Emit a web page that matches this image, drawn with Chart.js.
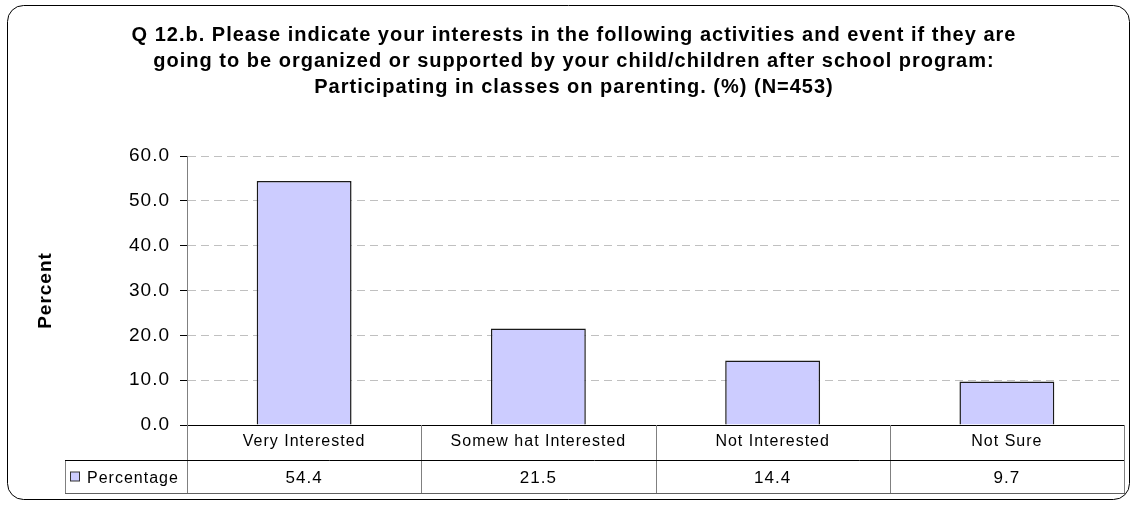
<!DOCTYPE html>
<html lang="en">
<head>
  <meta charset="UTF-8">
  <title>Q 12.b - Participating in classes on parenting</title>
  <script src="https://cdn.jsdelivr.net/npm/chart.js"></script>
  <style>
    html, body { margin: 0; padding: 0; background: #fff; }
    #wrap { width: 1133px; height: 508px; }
  </style>
</head>
<body>
  <div id="wrap">
    <canvas id="grafico" width="1133" height="508"></canvas>
  </div>

  <script>
    // Dados do gráfico
    const categorias = ["Very Interested", "Somew hat Interested", "Not Interested", "Not Sure"];
    const percentagens = [54.4, 21.5, 14.4, 9.7];
    const nomeSerie = "Percentage";
    const eixoY = { min: 0, max: 60, passo: 10 };
    const titulo = [
      "Q 12.b. Please indicate your interests in the following activities and event if they are",
      "going to be organized or supported by your child/children after school program:",
      "Participating in classes on parenting. (%) (N=453)"
    ];

    const FONTE = "'Liberation Sans', Arial, sans-serif";
    const COR_BARRA = "#ccccff";

    // Espaçamento entre letras um pouco mais largo, como no Excel
    const espacamento = {
      id: "espacamento",
      beforeLayout(chart) { chart.ctx.letterSpacing = "1px"; },
      beforeDraw(chart) { chart.ctx.letterSpacing = "1px"; }
    };

    // Moldura arredondada em volta do gráfico
    const moldura = {
      id: "moldura",
      beforeDraw(chart) {
        const ctx = chart.ctx;
        ctx.save();
        ctx.fillStyle = "#fff";
        ctx.fillRect(0, 0, chart.width, chart.height);
        ctx.beginPath();
        ctx.roundRect(7.5, 5.5, 1122, 494, 16);
        ctx.strokeStyle = "#000";
        ctx.lineWidth = 1;
        ctx.stroke();
        ctx.restore();
      }
    };

    // Tabela de dados abaixo do eixo X
    const tabela = {
      id: "tabela",
      afterDraw(chart) {
        const ctx = chart.ctx;
        const x = chart.scales.x;
        const area = chart.chartArea;
        const topo = area.bottom;
        const meio = topo + 35;
        const fundo = x.bottom;
        const largura = (area.right - area.left) / categorias.length;
        const esquerda = 65;

        ctx.save();
        ctx.lineWidth = 1;

        // linhas verticais
        ctx.strokeStyle = "#808080";
        ctx.beginPath();
        for (let i = 0; i <= categorias.length; i++) {
          const px = Math.round(area.left + i * largura) + 0.5;
          ctx.moveTo(px, topo);
          ctx.lineTo(px, fundo);
        }
        ctx.moveTo(esquerda + 0.5, meio);
        ctx.lineTo(esquerda + 0.5, fundo);
        ctx.stroke();

        // linhas horizontais
        ctx.strokeStyle = "#000";
        ctx.beginPath();
        ctx.moveTo(esquerda, meio + 0.5);
        ctx.lineTo(area.right, meio + 0.5);
        ctx.stroke();
        ctx.strokeStyle = "#606060";
        ctx.beginPath();
        ctx.moveTo(esquerda, fundo + 0.5);
        ctx.lineTo(area.right + 1, fundo + 0.5);
        ctx.stroke();

        // legenda da série
        const ly = (meio + fundo) / 2;
        ctx.fillStyle = COR_BARRA;
        ctx.fillRect(70.5, ly - 4.5, 9, 9);
        ctx.strokeStyle = "#333";
        ctx.strokeRect(70.5, ly - 4.5, 9, 9);

        ctx.fillStyle = "#000";
        ctx.textBaseline = "middle";
        ctx.textAlign = "left";
        ctx.font = "16px " + FONTE;
        ctx.fillText(nomeSerie, 87, ly + 2);

        // valores
        ctx.textAlign = "center";
        ctx.font = "17px " + FONTE;
        chart.data.datasets[0].data.forEach((v, i) => {
          ctx.fillText(v.toFixed(1), x.getPixelForValue(i), ly + 2);
        });
        ctx.restore();
      }
    };

    const ctxGrafico = document.getElementById("grafico").getContext("2d");
    new Chart(ctxGrafico, {
      type: "bar",
      data: {
        labels: categorias,
        datasets: [{
          label: nomeSerie,
          data: percentagens,
          backgroundColor: COR_BARRA,
          borderColor: "#1a1a1a",
          borderWidth: 1.5,
          categoryPercentage: 1,
          barPercentage: 0.405
        }]
      },
      options: {
        responsive: false,
        animation: false,
        layout: { padding: { left: 24, right: 9, top: 22, bottom: 15 } },
        plugins: {
          legend: { display: false },
          tooltip: { enabled: false },
          title: {
            display: true,
            text: titulo,
            color: "#000",
            font: { family: FONTE, size: 20, weight: "bold", lineHeight: 1.3 },
            padding: { top: 0, bottom: 56 }
          }
        },
        scales: {
          x: {
            grid: { display: false, drawTicks: false },
            border: { display: true, color: "#000", width: 1 },
            ticks: {
              color: "#000",
              font: { family: FONTE, size: 16 },
              padding: 7,
              maxRotation: 0
            },
            afterFit(scale) { scale.height = 68; }
          },
          y: {
            min: eixoY.min,
            max: eixoY.max,
            ticks: {
              stepSize: eixoY.passo,
              color: "#000",
              font: { family: FONTE, size: 19 },
              padding: 10,
              callback: v => v.toFixed(1)
            },
            grid: {
              color: "#c0c0c0",
              tickColor: "#000",
              tickLength: 7,
              tickBorderDash: []
            },
            border: { color: "#808080", width: 1, dash: [8, 5] },
            title: {
              display: true,
              text: "Percent",
              color: "#000",
              font: { family: FONTE, size: 19, weight: "bold" },
              padding: { top: 10, bottom: 0 }
            },
            afterFit(scale) { scale.width = 163; }
          }
        }
      },
      plugins: [espacamento, moldura, tabela]
    });
  </script>
</body>
</html>
